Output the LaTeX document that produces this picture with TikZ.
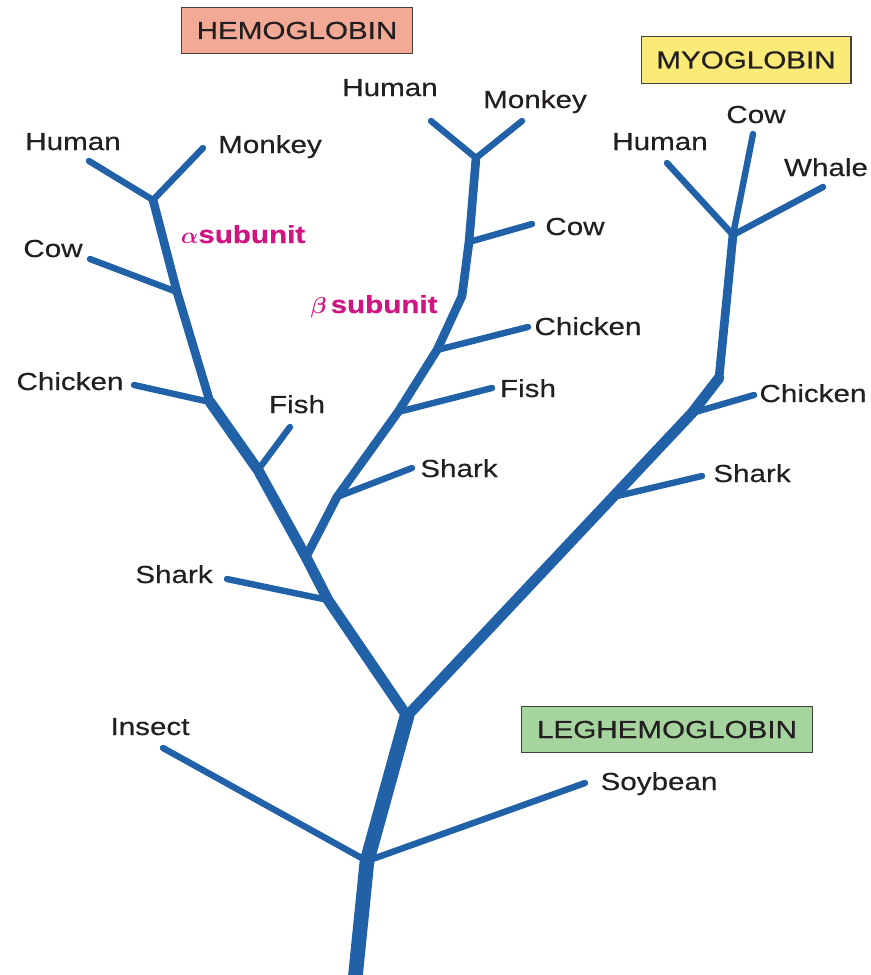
\documentclass[tikz,border=0pt]{standalone}
\usepackage{bm}
\usepackage{fontspec}
\setmainfont{Liberation Sans}[FakeStretch=1.2,FakeBold=0.4]
\definecolor{treeblue}{RGB}{33,97,168}
\definecolor{ink}{RGB}{35,31,32}
\definecolor{subpink}{RGB}{208,20,130}
\definecolor{hemofill}{RGB}{242,170,150}
\definecolor{myofill}{RGB}{250,234,120}
\definecolor{legfill}{RGB}{166,212,158}
\begin{document}
\begin{tikzpicture}[x=0.75pt,y=-0.75pt,
  every node/.style={font=\fontsize{18.5}{22}\selectfont,text=ink},
  stem/.style={draw=treeblue,line width=11pt,line cap=round,line join=round},
  limb/.style={draw=treeblue,line width=8pt,line cap=round,line join=round},
  bough/.style={draw=treeblue,line width=6.5pt,line cap=round,line join=round},
  twig/.style={draw=treeblue,line width=4.8pt,line cap=round,line join=round},
  taxon/.style={anchor=base,inner sep=0pt},
  subunit/.style={anchor=base,inner sep=0pt,text=subpink,font=\fontsize{18.5}{22}\selectfont\bfseries},
  family/.style={draw=ink!85,line width=0.8pt,inner xsep=11.5pt,inner ysep=0pt,minimum height=35pt}]
  \useasboundingbox (0,0) rectangle (871,975);

  % trunk and first forks
  \coordinate (root) at (354,990);
  \coordinate (leg) at (367,861);
  \coordinate (split) at (407,716);
  \coordinate (insectTip) at (163,748);
  \coordinate (soyTip) at (585,783);

  % alpha chain
  \coordinate (aSh) at (328,600);
  \coordinate (fork) at (306,557);
  \coordinate (aFi) at (258,470);
  \coordinate (aCh) at (210,402);
  \coordinate (aCo) at (177,292);
  \coordinate (aTop) at (153,200);
  \coordinate (aShTip) at (227,579);
  \coordinate (aFiTip) at (290,427);
  \coordinate (aChTip) at (134,385);
  \coordinate (aCoTip) at (90,259);
  \coordinate (aHuTip) at (89,161);
  \coordinate (aMoTip) at (203,148);

  % beta chain
  \coordinate (bSh) at (337,497);
  \coordinate (bFi) at (398,412);
  \coordinate (bCh) at (437,350);
  \coordinate (bBend) at (462,296);
  \coordinate (bCo) at (469,242);
  \coordinate (bTop) at (476,158);
  \coordinate (bShTip) at (412,468);
  \coordinate (bFiTip) at (492,388);
  \coordinate (bChTip) at (528,327);
  \coordinate (bCoTip) at (532,224);
  \coordinate (bHuTip) at (431,121);
  \coordinate (bMoTip) at (522,121);

  % myoglobin chain
  \coordinate (mSh) at (613,497);
  \coordinate (mCh) at (692,413);
  \coordinate (mBend) at (719,378);
  \coordinate (mTop) at (733,235);
  \coordinate (mShTip) at (702,476);
  \coordinate (mChTip) at (754,395);
  \coordinate (mHuTip) at (667,163);
  \coordinate (mCoTip) at (753,134);
  \coordinate (mWhTip) at (823,187);

  \draw[twig] (leg) -- (insectTip);
  \draw[twig] (leg) -- (soyTip);
  \draw[twig] (aSh) -- (aShTip);
  \draw[twig] (aFi) -- (aFiTip);
  \draw[twig] (aCh) -- (aChTip);
  \draw[twig] (aCo) -- (aCoTip);
  \draw[twig] (aTop) -- (aHuTip);
  \draw[twig] (aTop) -- (aMoTip);
  \draw[twig] (bSh) -- (bShTip);
  \draw[twig] (bFi) -- (bFiTip);
  \draw[twig] (bCh) -- (bChTip);
  \draw[twig] (bCo) -- (bCoTip);
  \draw[twig] (bTop) -- (bHuTip);
  \draw[twig] (bTop) -- (bMoTip);
  \draw[twig] (mSh) -- (mShTip);
  \draw[twig] (mCh) -- (mChTip);
  \draw[twig] (mTop) -- (mHuTip);
  \draw[twig] (mTop) -- (mCoTip);
  \draw[twig] (mTop) -- (mWhTip);

  \draw[bough] (aCh) -- (aCo) -- (aTop);
  \draw[bough] (fork) -- (bSh) -- (bFi) -- (bCh) -- (bBend) -- (bCo) -- (bTop);
  \draw[bough] (mBend) -- (mTop);
  \draw[limb] (split) -- (aSh) -- (fork) -- (aFi) -- (aCh);
  \draw[limb] (split) -- (mSh) -- (mCh) -- (mBend);
  \draw[stem] (root) -- (leg) -- (split);

  \node[family,fill=hemofill] (hemo) at (297,30.5) {HEMOGLOBIN};
  \node[family,fill=myofill] (myo) at (746,60) {MYOGLOBIN};
  \node[family,fill=legfill] (leghemo) at (667,729.5) {LEGHEMOGLOBIN};

  \node[subunit] (alpha) at (243,243) {$\bm{\alpha}$subunit};
  \node[subunit] (beta) at (374,313) {$\bm{\beta}$\,subunit};

  \node[taxon] (aHuman) at (73,150) {Human};
  \node[taxon] (aMonkey) at (270,153) {Monkey};
  \node[taxon] (aCow) at (53,257) {Cow};
  \node[taxon] (aChicken) at (70,390) {Chicken};
  \node[taxon] (aFish) at (297,413) {Fish};
  \node[taxon] (aShark) at (174,583) {Shark};

  \node[taxon] (bHuman) at (390,96) {Human};
  \node[taxon] (bMonkey) at (535,108) {Monkey};
  \node[taxon] (bCow) at (575,235) {Cow};
  \node[taxon] (bChicken) at (588,335) {Chicken};
  \node[taxon] (bFish) at (528,397) {Fish};
  \node[taxon] (bShark) at (459,477) {Shark};

  \node[taxon] (mHuman) at (660,150) {Human};
  \node[taxon] (mCow) at (756,123) {Cow};
  \node[taxon] (mWhale) at (826,176) {Whale};
  \node[taxon] (mChicken) at (813,402) {Chicken};
  \node[taxon] (mShark) at (752,482) {Shark};

  \node[taxon] (insect) at (150,735) {Insect};
  \node[taxon] (soybean) at (659,790) {Soybean};
\end{tikzpicture}
\end{document}
